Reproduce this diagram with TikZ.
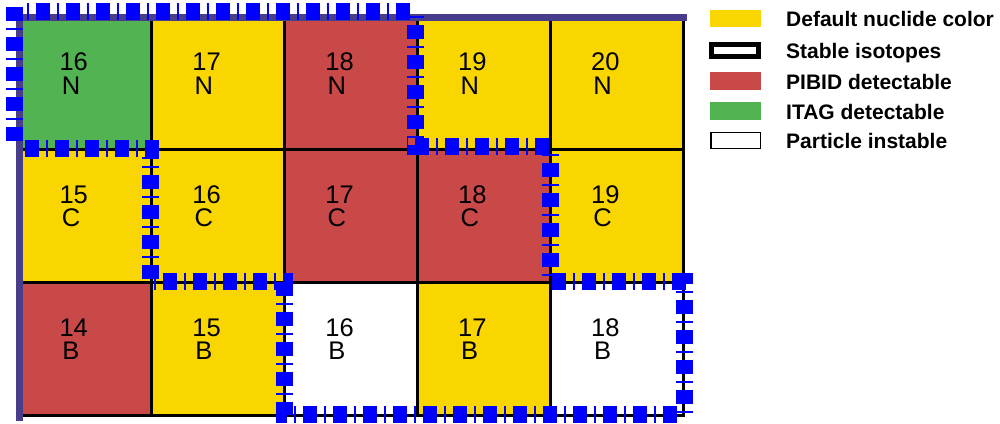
\documentclass[tikz,border=0pt]{standalone}
\usepackage{fontspec}
\setmainfont{Liberation Sans}
\definecolor{ylw}{RGB}{249,214,0}
\definecolor{rd}{RGB}{201,72,72}
\definecolor{grn}{RGB}{82,179,82}
\definecolor{framec}{RGB}{72,61,139}
\begin{document}
\begin{tikzpicture}[x=1pt,y=-1pt,
  cell/.style={draw=black,line width=3pt,minimum size=132.9pt,inner sep=0pt,outer sep=0pt},
  celltxt/.style={anchor=base,inner sep=0pt,font=\fontsize{25.5}{30}\selectfont},
  swatch/.style={minimum width=50.7pt,minimum height=17.5pt,inner sep=0pt,outer sep=0pt},
  lgtxt/.style={anchor=base west,inner sep=0pt,font=\bfseries\fontsize{21}{25}\selectfont},
  bluedash/.style={draw=blue,line width=17pt,dash pattern=on 14pt off 7pt on 2pt off 7pt,line cap=butt},
  axisline/.style={draw=framec,line width=7pt,line join=miter}]
\useasboundingbox (0,0) rectangle (1000,423);
% cells
\foreach \c/\r/\n/\e/\f in {0/0/16/N/grn,1/0/17/N/ylw,2/0/18/N/rd,3/0/19/N/ylw,4/0/20/N/ylw,
  0/1/15/C/ylw,1/1/16/C/ylw,2/1/17/C/rd,3/1/18/C/rd,4/1/19/C/ylw,
  0/2/14/B/rd,1/2/15/B/ylw,2/2/16/B/white,3/2/17/B/ylw,4/2/18/B/white}{
  \pgfmathsetmacro\xl{19+132.9*\c}
  \pgfmathsetmacro\yt{17+132.9*\r}
  \node[cell,fill=\f] (c\e\n) at (\xl+66.45,\yt+66.45) {};
}
% frame lines
\draw[axisline] ([xshift=3pt]cN20.north east) -- (cN16.north west) -- ([yshift=-5pt]cB14.south west);
% blue dashed boundary, one segment per side
\draw[bluedash,dash phase=15.5pt] (21,11.5) -- (412,11.5);
\draw[bluedash,dash phase=26.3pt] (14.5,3) -- (14.5,144);
\draw[bluedash,dash phase=0pt] (24.5,148.3) -- (159,148.3);
\draw[bluedash,dash phase=12.5pt] (150.3,157) -- (150.3,280);
\draw[bluedash,dash phase=16.7pt] (150,281.7) -- (293.3,281.7);
\draw[bluedash,dash phase=24.3pt] (284.7,276) -- (284.7,415);
\draw[bluedash,dash phase=3pt] (276,414) -- (680,414);
\draw[bluedash,dash phase=3.3pt] (684.7,273.3) -- (684.7,416);
\draw[bluedash,dash phase=0pt] (551.7,281.7) -- (685.7,281.7);
\draw[bluedash,dash phase=18.7pt] (550.3,152) -- (550.3,277);
\draw[bluedash,dash phase=22pt] (407,146.2) -- (549,146.2);
\draw[bluedash,dash phase=17pt] (415.7,12) -- (415.7,155);
% texts
\foreach \c/\r/\n/\e in {0/0/16/N,1/0/17/N,2/0/18/N,3/0/19/N,4/0/20/N,
  0/1/15/C,1/1/16/C,2/1/17/C,3/1/18/C,4/1/19/C,
  0/2/14/B,1/2/15/B,2/2/16/B,3/2/17/B,4/2/18/B}{
  \pgfmathsetmacro\xl{19+132.9*\c}
  \pgfmathsetmacro\yt{17+132.9*\r}
  \node[celltxt] (n\e\n) at (\xl+54.7,\yt+53.7) {\n};
  \node[celltxt] (e\e\n) at (\xl+52,\yt+77) {\e};
}
% legend
\node[swatch,fill=ylw] (s1) at (735.7,18.7) {};
\node[draw=black,line width=5pt,fill=white,minimum width=46.5pt,minimum height=12.8pt,inner sep=0pt,outer sep=0pt] (s2) at (735.2,50.5) {};
\node[swatch,fill=rd] (s3) at (735.7,80.8) {};
\node[swatch,fill=grn] (s4) at (735.7,110.8) {};
\node[draw=black,line width=1.5pt,fill=white,minimum width=49.2pt,minimum height=16pt,inner sep=0pt,outer sep=0pt] (s5) at (735.7,140.3) {};
\node[lgtxt] (t1) at (786,26.7) {Default nuclide color};
\node[lgtxt] (t2) at (786,58.4) {Stable isotopes};
\node[lgtxt] (t3) at (786,89.3) {PIBID detectable};
\node[lgtxt] (t4) at (786,119) {ITAG detectable};
\node[lgtxt] (t5) at (786,148.3) {Particle instable};
\end{tikzpicture}
\end{document}
